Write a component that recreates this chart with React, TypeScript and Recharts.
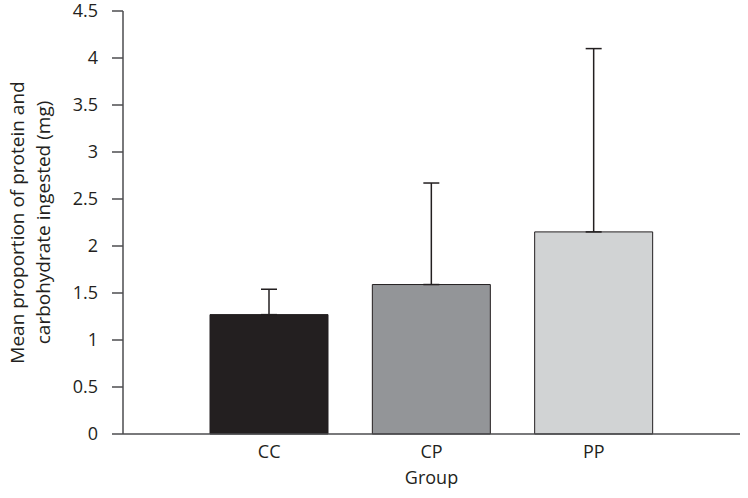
import React from "react"
import { BarChart, Bar, XAxis, YAxis, ErrorBar, Cell, Label } from "recharts"

const groups = ["CC", "CP", "PP"]
const means = [1.27, 1.59, 2.15]
const errorUp = [0.27, 1.08, 1.95]
const barColors = ["#231f20", "#939598", "#d1d3d4"]
const yTicks = [0, 0.5, 1, 1.5, 2, 2.5, 3, 3.5, 4, 4.5]

const data = groups.map((g, i) => ({ group: g, mean: means[i], err: [0, errorUp[i]] }))

const font = "'Open Sans', 'Noto Sans', sans-serif"
const axisColor = "#4d4d4f"
const textColor = "#231f20"

function YLabel(props: any) {
  const vb = props.viewBox || {}
  const cy = vb.y + vb.height / 2
  return (
    <g fill={textColor} fontFamily={font} fontSize={19}>
      <text x={24} y={cy} textAnchor="middle" transform={`rotate(-90 24 ${cy})`}>
        Mean proportion of protein and
      </text>
      <text x={50} y={cy} textAnchor="middle" transform={`rotate(-90 50 ${cy})`}>
        carbohydrate ingested (mg)
      </text>
    </g>
  )
}

function XLabel(props: any) {
  const vb = props.viewBox || {}
  return (
    <text x={vb.x + vb.width / 2} y={484} textAnchor="middle" fill={textColor} fontFamily={font} fontSize={18}>
      Group
    </text>
  )
}

export default function App() {
  return (
    <div style={{ position: "absolute", left: 0, top: 0, background: "#fff" }}>
      <BarChart
        width={748}
        height={498}
        data={data}
        margin={{ top: 11, right: 8, bottom: 0, left: 0 }}
        barSize={118}
      >
        <XAxis
          dataKey="group"
          height={64}
          padding={{ left: 65, right: 65 }}
          tickLine={false}
          axisLine={{ stroke: axisColor, strokeWidth: 1.5 }}
          tick={{ fill: textColor, fontSize: 18, fontFamily: font }}
          tickMargin={5}
        >
          <Label content={<XLabel />} />
        </XAxis>
        <YAxis
          width={123}
          domain={[0, 4.5]}
          ticks={yTicks}
          interval={0}
          tickSize={11}
          tickLine={{ stroke: axisColor, strokeWidth: 1.5 }}
          axisLine={{ stroke: axisColor, strokeWidth: 1.5 }}
          tick={{ fill: textColor, fontSize: 18, fontFamily: font }}
          tickMargin={14}
        >
          <Label content={<YLabel />} />
        </YAxis>
        <Bar dataKey="mean" stroke={textColor} strokeWidth={1} isAnimationActive={false}>
          {data.map((d, i) => (
            <Cell key={d.group} fill={barColors[i]} />
          ))}
          <ErrorBar dataKey="err" direction="y" width={8} stroke={textColor} strokeWidth={1.5} isAnimationActive={false} />
        </Bar>
      </BarChart>
    </div>
  )
}
